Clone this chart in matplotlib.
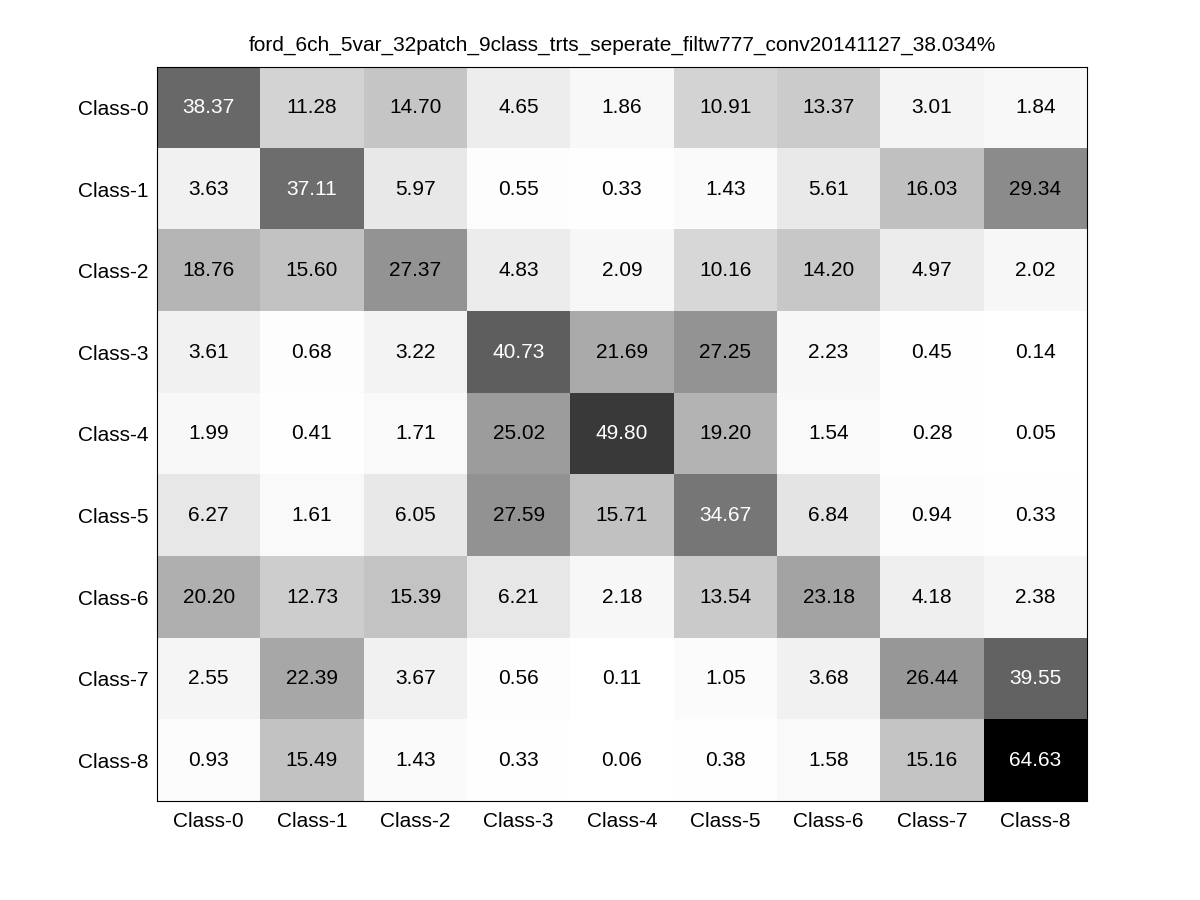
import numpy as np
import matplotlib
matplotlib.use('Agg')
import matplotlib.pyplot as plt

plt.rcParams['font.family'] = ['Liberation Sans', 'DejaVu Sans']

TITLE = 'ford_6ch_5var_32patch_9class_trts_seperate_filtw777_conv20141127_38.034%'
classes = ['Class-%d' % i for i in range(9)]

# confusion matrix values (percent), rows = true class
row0 = [38.37, 11.28, 14.70, 4.65, 1.86, 10.91, 13.37, 3.01, 1.84]
row1 = [3.63, 37.11, 5.97, 0.55, 0.33, 1.43, 5.61, 16.03, 29.34]
row2 = [18.76, 15.60, 27.37, 4.83, 2.09, 10.16, 14.20, 4.97, 2.02]
row3 = [3.61, 0.68, 3.22, 40.73, 21.69, 27.25, 2.23, 0.45, 0.14]
row4 = [1.99, 0.41, 1.71, 25.02, 49.80, 19.20, 1.54, 0.28, 0.05]
row5 = [6.27, 1.61, 6.05, 27.59, 15.71, 34.67, 6.84, 0.94, 0.33]
row6 = [20.20, 12.73, 15.39, 6.21, 2.18, 13.54, 23.18, 4.18, 2.38]
row7 = [2.55, 22.39, 3.67, 0.56, 0.11, 1.05, 3.68, 26.44, 39.55]
row8 = [0.93, 15.49, 1.43, 0.33, 0.06, 0.38, 1.58, 15.16, 64.63]

cm = np.array([row0, row1, row2, row3, row4, row5, row6, row7, row8])

fig = plt.figure(figsize=(12, 9), dpi=100)
ax = fig.add_axes([0.1308, 0.11, 0.775, 0.8156])
ax.imshow(cm, cmap='gray_r', vmin=0, vmax=cm.max(), aspect='auto',
          interpolation='nearest')

thresh = cm.max() / 2.0
for i in range(cm.shape[0]):
    for j in range(cm.shape[1]):
        v = cm[i, j]
        ax.text(j, i, '%.2f' % v, ha='center', va='center', fontsize=15,
                color='white' if v > thresh else 'black')

ax.set_xticks(np.arange(len(classes)))
ax.set_yticks(np.arange(len(classes)))
ax.set_xticklabels(classes, fontsize=15)
ax.set_yticklabels(classes, fontsize=15)
ax.tick_params(axis='x', length=0, pad=8)
ax.tick_params(axis='y', length=0, pad=6)
ax.set_title(TITLE, fontsize=15, pad=12)

plt.savefig('out.png')
plt.close()
